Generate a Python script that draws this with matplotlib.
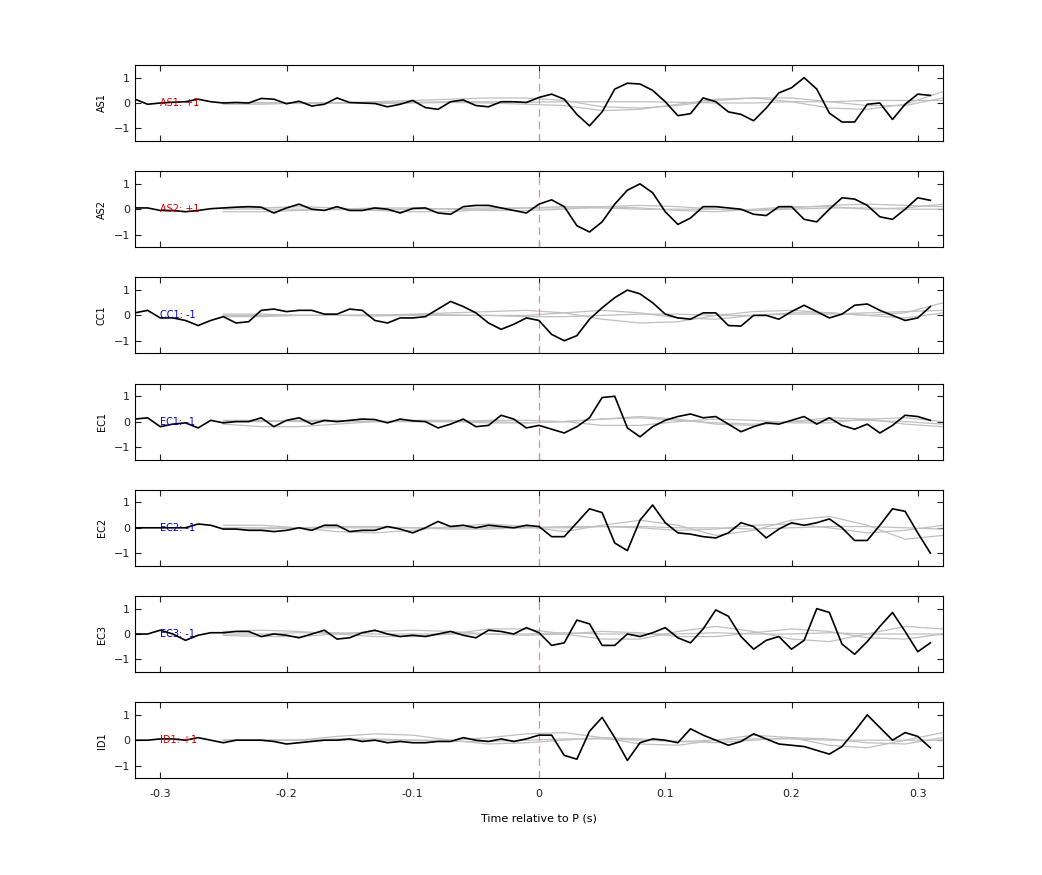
import numpy as np
import matplotlib
matplotlib.use("Agg")
import matplotlib.pyplot as plt

time = np.round(np.arange(-0.32, 0.315, 0.01), 2)
channels = ["AS1", "AS2", "CC1", "EC1", "EC2", "EC3", "ID1"]
labels = ["AS1: +1", "AS2: +1", "CC1: -1", "EC1: -1", "EC2: -1", "EC3: -1", "ID1: +1"]
label_colors = ["#d00000", "#d00000", "#0000c0", "#0000c0", "#0000c0", "#0000c0", "#d00000"]

AS1 = [0.15,-0.05,0.0,0.03,0.05,0.15,0.05,0.0,0.02,0.0,0.18,0.15,-0.03,0.07,-0.12,-0.05,0.2,0.02,0.0,-0.02,-0.15,-0.05,0.1,-0.18,-0.25,0.05,0.12,-0.1,-0.15,0.05,0.05,0.02,
       0.22,0.35,0.15,-0.45,-0.9,-0.35,0.55,0.78,0.75,0.5,0.05,-0.5,-0.42,0.2,0.05,-0.35,-0.45,-0.7,-0.2,0.4,0.6,1.0,0.55,-0.4,-0.75,-0.75,-0.05,0.0,-0.65,-0.05,0.35,0.3]
AS2 = [0.05,0.05,-0.05,-0.05,-0.1,-0.05,0.02,0.05,0.08,0.1,0.08,-0.15,0.05,0.2,0.0,-0.05,0.1,-0.05,-0.05,0.05,0.0,-0.15,0.03,0.05,-0.15,-0.2,0.1,0.15,0.15,0.05,-0.05,-0.15,
       0.2,0.37,0.1,-0.65,-0.9,-0.5,0.2,0.75,1.0,0.65,-0.1,-0.6,-0.35,0.1,0.1,0.05,0.0,-0.2,-0.25,0.1,0.1,-0.4,-0.5,0.0,0.45,0.4,0.15,-0.3,-0.4,0.0,0.45,0.35]
CC1 = [0.1,0.2,-0.1,-0.1,-0.2,-0.4,-0.2,-0.05,-0.3,-0.25,0.2,0.25,0.15,0.2,0.2,0.05,0.05,0.25,0.2,-0.2,-0.3,-0.1,-0.1,-0.05,0.25,0.55,0.35,0.1,-0.3,-0.55,-0.35,-0.1,
       -0.2,-0.75,-1.0,-0.8,-0.15,0.3,0.7,1.0,0.85,0.5,0.05,-0.1,-0.15,0.1,0.1,-0.4,-0.42,0.0,0.0,-0.15,0.15,0.4,0.15,-0.1,0.05,0.4,0.45,0.2,0.0,-0.2,-0.1,0.35]
EC1 = [0.1,0.15,-0.2,-0.1,-0.05,-0.25,0.05,-0.05,0.0,0.0,0.15,-0.2,0.05,0.15,-0.1,0.05,0.0,0.05,0.1,0.08,-0.05,0.1,0.03,0.0,-0.25,-0.1,0.1,-0.2,-0.15,0.25,0.1,-0.25,
       -0.15,-0.3,-0.45,-0.2,0.15,0.95,1.0,-0.25,-0.6,-0.2,0.05,0.2,0.3,0.15,0.2,-0.1,-0.4,-0.2,-0.05,-0.1,0.05,0.2,-0.1,0.15,-0.15,-0.3,-0.1,-0.45,-0.15,0.25,0.2,0.05]
EC2 = [0.0,0.0,0.0,0.0,0.0,0.15,0.1,-0.05,-0.05,-0.1,-0.1,-0.15,-0.1,0.0,-0.1,0.1,0.1,-0.15,-0.1,-0.1,0.05,-0.05,-0.2,0.0,0.25,0.05,0.1,0.0,0.1,0.05,0.0,0.1,
       0.05,-0.35,-0.35,0.2,0.75,0.6,-0.6,-0.9,0.3,0.9,0.2,-0.2,-0.25,-0.35,-0.4,-0.2,0.2,0.05,-0.4,-0.05,0.2,0.1,0.2,0.35,0.0,-0.5,-0.5,0.1,0.75,0.65,-0.2,-1.0]
EC3 = [0.0,0.0,0.15,0.0,-0.25,-0.05,0.05,0.05,0.1,0.1,-0.1,0.0,-0.05,-0.15,0.0,0.15,-0.2,-0.15,0.05,0.15,0.0,-0.1,-0.05,-0.1,0.0,0.1,-0.05,-0.15,0.15,0.1,0.0,0.25,
       0.05,-0.45,-0.35,0.55,0.4,-0.45,-0.45,0.0,-0.1,0.05,0.25,-0.15,-0.35,0.2,0.95,0.7,-0.1,-0.6,-0.25,-0.1,-0.6,-0.25,1.0,0.85,-0.4,-0.8,-0.3,0.3,0.85,0.1,-0.7,-0.35]
ID1 = [0.0,0.0,0.05,0.05,0.0,0.1,0.0,-0.1,0.0,0.0,0.0,-0.05,-0.15,-0.1,-0.05,0.0,0.0,0.05,-0.05,0.0,-0.1,-0.05,-0.1,-0.1,-0.05,-0.05,0.1,0.0,-0.05,0.05,-0.05,0.05,
       0.2,0.2,-0.6,-0.75,0.35,0.9,0.1,-0.8,-0.1,0.05,0.0,-0.1,0.45,0.2,0.0,-0.2,-0.05,0.25,0.05,-0.15,-0.2,-0.25,-0.4,-0.55,-0.25,0.35,1.0,0.5,0.0,0.3,0.15,-0.3]
series = [AS1, AS2, CC1, EC1, EC2, EC3, ID1]

# gray reference traces, sampled coarsely
gtime = np.round(np.arange(-0.25, 0.33, 0.03), 2)
gray = {
 "AS1": [[0.0,0.0,-0.02,0.0,0.05,0.1,0.15,0.2,0.2,0.1,-0.15,-0.2,-0.1,0.1,0.2,0.2,0.05,-0.1,-0.1,0.2],
         [-0.05,-0.05,0.0,0.0,-0.02,0.0,0.02,0.0,-0.05,-0.1,-0.3,-0.25,-0.05,0.15,0.2,0.05,-0.2,-0.25,-0.05,0.45],
         [0.02,0.02,0.0,0.0,0.02,0.03,0.05,0.05,0.03,0.05,0.05,0.05,0.03,0.0,0.0,0.05,0.05,0.1,0.1,0.1]],
 "AS2": [[-0.1,-0.1,-0.05,0.0,0.05,0.05,0.0,-0.05,-0.05,0.0,0.1,0.15,0.1,0.0,-0.05,0.05,0.15,0.2,0.15,0.1],
         [0.05,0.05,0.1,0.05,-0.05,-0.1,-0.1,0.0,0.05,0.1,0.1,0.05,-0.05,-0.1,0.0,0.1,0.1,0.0,0.05,0.2],
         [0.0,0.0,0.0,-0.02,0.0,0.0,0.02,0.05,0.05,0.05,0.05,0.0,0.0,0.0,-0.05,0.0,0.05,0.05,0.0,0.0]],
 "CC1": [[-0.05,-0.05,0.0,0.0,0.0,0.05,0.1,0.15,0.2,0.1,-0.15,-0.3,-0.25,0.0,0.15,0.2,0.1,0.0,0.1,0.5],
         [0.0,0.0,0.0,0.0,-0.02,0.0,0.0,0.0,0.0,0.1,0.2,0.1,-0.1,-0.15,0.0,0.1,0.1,0.0,-0.1,0.1],
         [0.05,0.05,0.0,0.0,0.02,0.03,0.02,0.0,-0.05,-0.05,0.0,0.05,0.05,0.0,0.0,0.05,0.05,0.1,0.15,0.2]],
 "EC1": [[-0.1,-0.2,-0.2,-0.1,0.0,0.05,0.05,0.0,-0.05,0.0,0.1,0.2,0.1,-0.1,-0.15,0.0,0.15,0.1,-0.1,-0.2],
         [0.0,0.0,0.05,0.05,0.0,0.0,0.0,0.05,0.05,0.0,-0.15,-0.15,0.0,0.1,0.05,-0.05,-0.05,0.1,0.15,0.0],
         [0.05,0.05,0.0,0.0,0.0,0.0,0.0,-0.05,-0.05,0.0,0.1,0.15,0.05,-0.05,-0.1,0.0,0.05,0.05,0.0,-0.1]],
 "EC2": [[0.1,0.1,0.0,-0.15,-0.2,-0.1,0.05,0.15,0.05,-0.15,0.1,0.3,0.1,-0.3,-0.1,0.3,0.45,0.1,-0.45,-0.3],
         [-0.05,-0.05,0.0,0.05,0.05,0.0,-0.05,-0.05,0.0,0.05,0.05,0.0,-0.1,-0.05,0.1,0.15,0.0,-0.2,-0.1,0.1],
         [0.0,0.0,0.0,0.0,0.0,0.0,0.0,0.0,0.0,0.0,0.05,0.05,0.0,0.0,-0.05,0.0,0.05,0.05,0.0,-0.05]],
 "EC3": [[0.1,0.15,0.1,0.0,-0.1,-0.1,0.0,0.2,0.2,0.0,-0.2,-0.2,0.1,0.3,0.1,-0.2,-0.3,0.0,0.3,0.2],
         [-0.05,-0.1,-0.1,0.0,0.1,0.15,0.1,0.0,-0.05,0.0,0.1,0.05,-0.1,-0.1,0.05,0.2,0.1,-0.15,-0.2,0.0],
         [0.0,0.0,0.05,0.05,0.0,0.0,0.0,0.0,0.0,0.05,0.0,0.0,0.0,0.05,0.0,0.0,0.05,0.0,0.0,0.0]],
 "ID1": [[0.0,0.0,0.0,0.05,0.05,0.0,0.0,0.1,0.25,0.3,0.1,-0.15,-0.2,0.0,0.2,0.1,-0.2,-0.3,0.0,0.3],
         [0.0,0.0,0.0,0.15,0.25,0.2,0.0,-0.15,-0.1,0.0,0.1,0.05,-0.05,-0.1,0.0,0.1,0.05,-0.1,-0.15,0.1],
         [0.0,0.0,0.0,0.0,0.0,0.0,-0.05,-0.05,0.0,0.05,0.05,0.0,-0.05,0.0,0.05,0.05,0.0,0.0,0.0,0.0]],
}

fig = plt.figure(figsize=(10.42, 8.75), dpi=100)
W, H = 1042, 875
left, right = 135 / W, 943 / W
ph = 76
tops = [65 + i * 106.2 for i in range(7)]
for i, ch in enumerate(channels):
    ax = fig.add_axes([left, 1 - (tops[i] + ph) / H, right - left, ph / H])
    for g in gray[ch]:
        ax.plot(gtime, g, color="#c0c0c0", lw=0.9)
    ax.axvline(0, color="#e09090", lw=0.9, ls=(0, (6, 4)))
    ax.plot(time, series[i], color="black", lw=1.2)
    ax.text(-0.3, 0, labels[i], color=label_colors[i], fontsize=7, va="center", ha="left")
    ax.set_xlim(-0.32, 0.32)
    ax.set_ylim(-1.5, 1.5)
    ax.set_yticks([-1, 0, 1])
    ax.set_xticks([-0.3, -0.2, -0.1, 0, 0.1, 0.2, 0.3])
    ax.tick_params(direction="in", top=True, right=True, labelsize=8, length=4, colors="#222222")
    ax.tick_params(axis="x", pad=8)
    ax.set_ylabel(ch, fontsize=7)
    ax.yaxis.set_label_coords(-0.035, 0.5)
    if i < 6:
        ax.set_xticklabels([])
    else:
        ax.set_xticklabels(["-0.3", "-0.2", "-0.1", "0", "0.1", "0.2", "0.3"])
        ax.set_xlabel("Time relative to P (s)", fontsize=8, labelpad=10)

fig.savefig("out.png", dpi=100)
